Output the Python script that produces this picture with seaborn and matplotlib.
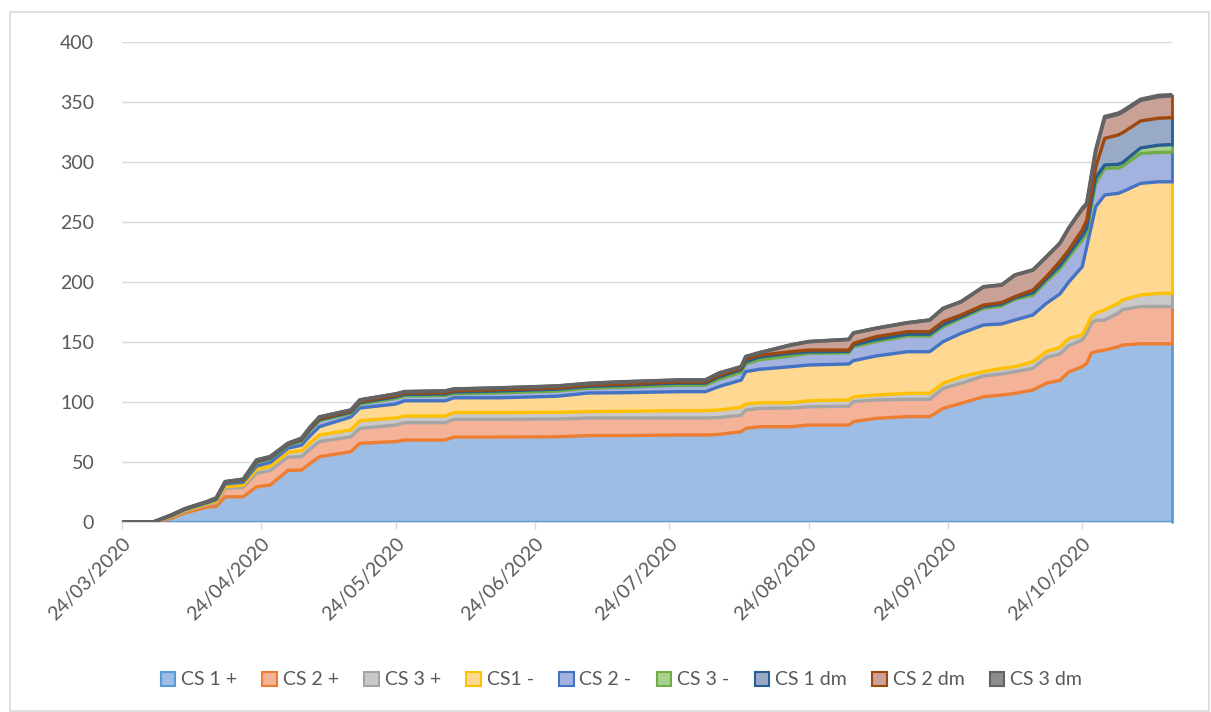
import numpy as np
import pandas as pd
import matplotlib
matplotlib.use("Agg")
import matplotlib.pyplot as plt
import matplotlib.dates as mdates
from matplotlib.patches import Patch, Rectangle
import seaborn as sns

# ── data (one value per layer thickness) ─────────────────────────────────────
dates = ["2020-03-24", "2020-03-31", "2020-04-04", "2020-04-07", "2020-04-12",
         "2020-04-14", "2020-04-16", "2020-04-20", "2020-04-23", "2020-04-26",
         "2020-04-30", "2020-05-03", "2020-05-05", "2020-05-07", "2020-05-14",
         "2020-05-16", "2020-05-24", "2020-05-26", "2020-06-04", "2020-06-06",
         "2020-06-16", "2020-06-29", "2020-07-06", "2020-07-13", "2020-07-26",
         "2020-08-01", "2020-08-04", "2020-08-09", "2020-08-10", "2020-08-13",
         "2020-08-20", "2020-08-24", "2020-09-02", "2020-09-03", "2020-09-08",
         "2020-09-15", "2020-09-20", "2020-09-23", "2020-09-27", "2020-10-02",
         "2020-10-06", "2020-10-09", "2020-10-13", "2020-10-16", "2020-10-19",
         "2020-10-21", "2020-10-24", "2020-10-25", "2020-10-26", "2020-10-27",
         "2020-10-29", "2020-11-01", "2020-11-02", "2020-11-06", "2020-11-10",
         "2020-11-13"]

cs1_pos = [0, 0, 3, 7.5, 12.5, 13, 21, 21, 29.4, 30.8, 43, 43.3, 49, 54.4, 58.6,
           65.6, 67, 68.3, 68.3, 70.8, 70.8, 71, 72, 72, 72.5, 72.5, 73, 75.3, 78,
           79.4, 79.4, 80.8, 80.8, 83.6, 86.4, 87.8, 87.8, 94.7, 98.9, 104.4,
           105.8, 107.2, 110, 115.6, 118, 125, 129.4, 132.2, 140.6, 142, 143.3,
           146, 147.5, 148.5, 148.5, 148.5]
cs2_pos = [0, 0, 1.2, 1.5, 2, 3, 7, 8, 11.2, 12, 11, 11.1, 12, 12.6, 12.4, 12.4,
           13.8, 14.5, 14.5, 14.8, 14.8, 14.8, 14.7, 14.7, 14.2, 14.2, 14, 13.7,
           15.3, 15.3, 15.6, 15.2, 15.7, 16.7, 15.3, 14.4, 14.4, 16.7, 16.7, 17.3,
           17.5, 18.1, 18, 21.6, 22, 22, 22.3, 25, 25, 26, 25, 28, 29.5, 31, 31, 31]
cs3_pos = [0, 0, 0.5, 0.7, 0.8, 1.2, 1.4, 1.6, 3.4, 3.5, 4, 5, 5.2, 5.5, 5.7, 6.4,
           5.9, 5.5, 5.5, 5.6, 5.6, 5.6, 5.3, 5.5, 6.1, 6.1, 6.3, 6.6, 5, 4.7, 4.4,
           5, 5.2, 4.1, 4.1, 5, 5, 4.2, 5.4, 3.6, 4.7, 4.1, 5.6, 4.7, 5.5, 6, 4.1,
           5.6, 5.4, 6, 8.4, 8.2, 8, 9.7, 11, 11]
cs1_neg = [0, 0, 0.5, 0.6, 0.8, 1.3, 2.3, 2.5, 2.7, 3.2, 3.5, 4.6, 6, 6.9, 10.8,
           10.6, 11.6, 12.7, 12.7, 12.3, 12.3, 13.4, 15.5, 15.5, 15.8, 15.8, 19.5,
           22.7, 27, 27.8, 30, 29.8, 30, 30, 32.5, 34.7, 34.7, 34.7, 36.2, 38.9,
           37, 38.9, 38.9, 40.3, 44.5, 47, 57, 66.6, 75, 88.8, 95.8, 91.7, 90.3,
           93, 93, 93]
cs2_neg = [0, 0, 0.3, 0.4, 0.5, 0.8, 1.2, 1.5, 2.7, 3, 2.5, 3.5, 4.5, 5, 3, 3.3,
           4.7, 4, 4.4, 3.4, 4.2, 4.4, 4, 4.5, 5.4, 5.4, 6, 6.5, 6.4, 8, 8.9, 9.8,
           9.3, 11.6, 12, 13.1, 13.1, 12.5, 12.5, 13.8, 15, 17.3, 16.5, 18.1, 21,
           21, 22.2, 11.2, 16.8, 19.4, 22.2, 21.1, 21.2, 25, 24.5, 24.5]
cs3_neg = [0, 0, 0.1, 0.1, 0.1, 0.2, 0.2, 0.3, 0.8, 0.8, 0.6, 0.8, 0.9, 1, 1, 1.2,
           1.3, 1.3, 1.3, 1.4, 1.5, 1.5, 1.6, 1.6, 1.7, 1.7, 2, 2.2, 1.9, 2.2, 2.3,
           1.2, 1.2, 1.5, 1.7, 1.5, 1.5, 1.7, 1.3, 1.5, 1.5, 1.2, 2, 2.2, 2.5, 2.5,
           3.5, 4.4, 4.2, 4.8, 2.8, 3, 3, 4.5, 6, 6.5]
cs1_dm = [0, 0, 0.1, 0.1, 0.1, 0.2, 0.2, 0.2, 0.5, 0.5, 0.4, 0.5, 0.6, 0.7, 0.8,
          0.9, 0.9, 1, 1, 1, 1, 1, 1, 1, 1, 1, 1.2, 1.2, 2, 1.5, 1.3, 1.5, 1.1,
          1.4, 2.4, 2.1, 2.1, 2.5, 1.5, 1.3, 1.3, 1, 2.3, 1.9, 3.5, 3.2, 4.8, 6.7,
          6.9, 9, 22.2, 24.5, 24.9, 22.5, 22.5, 22.5]
cs2_dm = [0, 0, 0.1, 0.1, 0.2, 0.3, 0.3, 0.5, 1, 0.6, 0.6, 0.9, 1.2, 1.4, 1, 1.3,
          1.5, 1.3, 1.5, 1.5, 1.5, 1.6, 1.4, 1.9, 1.6, 1.6, 2, 1.2, 2.2, 2.1, 5.6,
          7, 8.9, 8.6, 7, 7.4, 9.7, 11, 11.1, 15.2, 14.7, 18, 16.7, 16.6, 15.2,
          18.3, 17.1, 12.9, 12.9, 13, 17.1, 17.1, 17.1, 17, 17.9, 18]
cs3_dm = [0, 0, 0, 0, 0, 0, 0, 0, 0, 0, 0, 0, 0, 0, 0, 0, 0, 0, 0, 0, 0, 0, 0, 0,
          0, 0, 0, 0, 0, 0, 0, 0, 0, 0, 0, 0, 0, 0, 0, 0, 0, 0, 0, 0, 0, 0, 1, 1,
          1, 1, 1, 1, 1, 1, 1, 1]

series_names = ["CS 1 +", "CS 2 +", "CS 3 +", "CS1 -", "CS 2 -", "CS 3 -",
                "CS 1 dm", "CS 2 dm", "CS 3 dm"]
series_values = [cs1_pos, cs2_pos, cs3_pos, cs1_neg, cs2_neg, cs3_neg,
                 cs1_dm, cs2_dm, cs3_dm]

fill_colors = ["#9dbde5", "#f4b299", "#c9c9c9", "#ffd991", "#a4b2df",
               "#a9d18e", "#98aac6", "#c9a197", "#8c8c8c"]
edge_colors = ["#5b9bd5", "#ed7d31", "#a5a5a5", "#ffc000", "#4472c4",
               "#70ad47", "#255e91", "#9e480e", "#636363"]

x = pd.to_datetime(dates)
vals = np.array(series_values, dtype=float)
upper = np.cumsum(vals, axis=0)
lower = upper - vals

# ── figure ────────────────────────────────────────────────────────────────────
sns.set_theme(style="white")
plt.rcParams["font.family"] = ["Lato", "DejaVu Sans"]
TXT = "#595959"

fig = plt.figure(figsize=(12.11, 7.12), dpi=100)
ax = fig.add_axes([122 / 1211, 1 - 522 / 712, 1050 / 1211, 480 / 712])

for i in range(len(series_names)):
    ax.fill_between(x, lower[i], upper[i], color=fill_colors[i],
                    linewidth=0, zorder=2)

# boundary lines: each layer's lower edge in its own border colour
rows = []
for i, name in enumerate(series_names):
    for d, v in zip(x, lower[i]):
        rows.append({"date": d, "y": v, "series": name})
lines_df = pd.DataFrame(rows)
sns.lineplot(data=lines_df, x="date", y="y", hue="series",
             hue_order=series_names, palette=dict(zip(series_names, edge_colors)),
             estimator=None, sort=False, legend=False, linewidth=2.4, ax=ax,
             zorder=3)
ax.plot(x, upper[-1], color=edge_colors[-1], lw=2.7, zorder=4)
for i in range(len(series_names)):
    ax.plot([x[-1], x[-1]], [lower[i][-1], upper[i][-1]], color=edge_colors[i],
            lw=2.0, zorder=4, clip_on=False)

ax.set_xlim(pd.Timestamp("2020-03-24"), pd.Timestamp("2020-11-13"))
ax.set_ylim(0, 400)
ax.set_yticks(np.arange(0, 401, 50))
ax.yaxis.grid(True, color="#d9d9d9", lw=1.0)
ax.set_axisbelow(True)

ticks = pd.date_range("2020-03-24", "2020-10-24", freq=pd.DateOffset(months=1))
ax.set_xticks(ticks)
ax.xaxis.set_major_formatter(mdates.DateFormatter("%d/%m/%Y"))
for lab in ax.get_xticklabels():
    lab.set_rotation(45)
    lab.set_ha("right")
    lab.set_rotation_mode("anchor")

ax.tick_params(axis="y", length=0, pad=20, labelsize=14, labelcolor=TXT)
ax.tick_params(axis="x", length=5, width=1, color="#d9d9d9", pad=4,
               labelsize=14, labelcolor=TXT, direction="out", bottom=True)
ax.set_xlabel("")
ax.set_ylabel("")
for s in ["top", "right", "left"]:
    ax.spines[s].set_visible(False)
ax.spines["bottom"].set_color("#d9d9d9")

handles = [Patch(facecolor=f, edgecolor=e, linewidth=1.5)
           for f, e in zip(fill_colors, edge_colors)]
fig.legend(handles, series_names, loc="center", bbox_to_anchor=(0.513, 0.045),
           ncol=9, frameon=False, fontsize=14, labelcolor=TXT,
           handlelength=0.75, handleheight=0.75, handletextpad=0.3,
           columnspacing=1.3)

fig.patches.append(Rectangle((10 / 1211, 1 / 712), 1199 / 1211, 699 / 712,
                             transform=fig.transFigure, fill=False,
                             edgecolor="#d9d9d9", lw=1.2))

fig.savefig("out.png", dpi=100)
